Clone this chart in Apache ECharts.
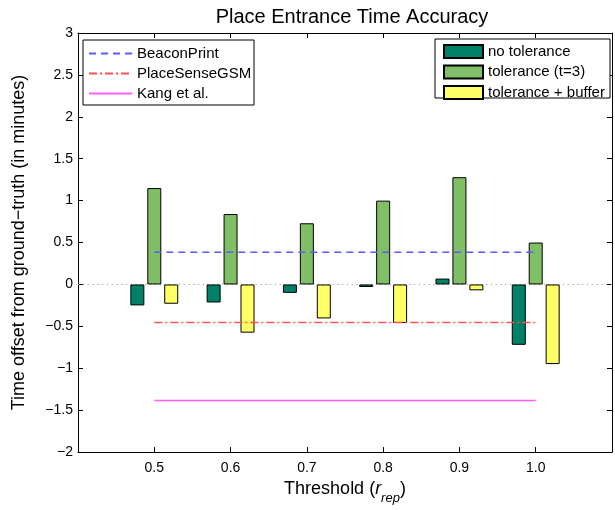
<!DOCTYPE html>
<html>
<head>
<meta charset="utf-8">
<script src="https://cdn.jsdelivr.net/npm/echarts@6/dist/echarts.min.js"></script>
<style>
html,body{margin:0;padding:0;background:#fff;}
#chart{width:615px;height:510px;}
</style>
</head>
<body>
<div id="chart"></div>
<script>
// ---- data ----
const thresholds = ['0.5', '0.6', '0.7', '0.8', '0.9', '1.0'];
const axisEnds = ['0.4', '1.1'];              // axis extends one step beyond data, unlabeled
const noTolerance = [-0.25, -0.215, -0.10, -0.03, 0.07, -0.72];
const toleranceT3 = [1.15, 0.84, 0.73, 1.00, 1.28, 0.50];
const toleranceBuffer = [-0.23, -0.575, -0.405, -0.46, -0.07, -0.95];
const beaconPrint = [0.385, 0.385, 0.385, 0.385, 0.385, 0.385];
const placeSenseGSM = [-0.455, -0.455, -0.455, -0.455, -0.455, -0.455];
const kangEtAl = [-1.385, -1.385, -1.385, -1.385, -1.385, -1.385];
const zeroLine = [0, 0, 0, 0, 0, 0, 0, 0];   // dotted reference line across the whole axis
const yMin = -2, yMax = 3, yStep = 0.5;

const FONT = "'Liberation Sans', Arial, Helvetica, sans-serif";
const categories = [axisEnds[0], ...thresholds, axisEnds[1]];
const pad = v => [null, ...v, null];
const fmtY = v => String(v).replace('-', '\u2212');

const chart = echarts.init(document.getElementById('chart'), null, {renderer: 'canvas'});

const barStyle = c => ({color: c, borderColor: '#000', borderWidth: 1});

chart.setOption({
  animation: false,
  backgroundColor: '#fff',
  textStyle: {fontFamily: FONT, color: '#000'},
  title: {
    text: 'Place Entrance Time Accuracy',
    left: 347, top: 2, textAlign: 'center',
    textStyle: {fontFamily: FONT, fontSize: 20, fontWeight: 'normal', color: '#000'}
  },
  grid: {left: 78, right: 1, top: 33, bottom: 57, containLabel: false},
  graphic: [
    {type: 'rect', shape: {x: 83, y: 40, width: 171, height: 65}, style: {fill: '#fff', stroke: '#000', lineWidth: 1}, z: 90},
    {type: 'rect', shape: {x: 435, y: 39, width: 175, height: 59}, style: {fill: '#fff', stroke: '#000', lineWidth: 1}, z: 90}
  ],
  legend: [
    {
      data: ['BeaconPrint', 'PlaceSenseGSM', 'Kang et al.'],
      orient: 'vertical', left: 88, top: 46, padding: 0,
      itemWidth: 43, itemHeight: 14, itemGap: 5,
      itemStyle: {opacity: 0},
      textStyle: {fontFamily: FONT, fontSize: 15, color: '#000'},
      z: 100
    },
    {
      data: ['no tolerance', 'tolerance (t=3)', 'tolerance + buffer'],
      orient: 'vertical', left: 443, top: 44, padding: 0,
      itemWidth: 39, itemHeight: 13, itemGap: 5.5, icon: 'rect',
      textStyle: {fontFamily: FONT, fontSize: 15, color: '#000'},
      z: 100
    }
  ],
  xAxis: [
    {
      type: 'category', data: categories, boundaryGap: false,
      name: '{a|Threshold (}{i|r}{s|rep}{a|)}',
      nameLocation: 'middle', nameGap: 26,
      nameTextStyle: {
        rich: {
          a: {fontFamily: FONT, fontSize: 18, color: '#000', lineHeight: 22, verticalAlign: 'top'},
          i: {fontFamily: FONT, fontSize: 18, fontStyle: 'italic', color: '#000', lineHeight: 22, verticalAlign: 'top'},
          s: {fontFamily: FONT, fontSize: 13, fontStyle: 'italic', color: '#000', lineHeight: 14, padding: [12, 0, 0, 0], verticalAlign: 'top'}
        }
      },
      axisLine: {onZero: false, lineStyle: {color: '#000', width: 1}},
      axisTick: {inside: true, length: 5, alignWithLabel: true, lineStyle: {color: '#000'}},
      axisLabel: {
        fontFamily: FONT, fontSize: 14, color: '#000', margin: 9,
        formatter: v => (axisEnds.includes(v) ? '' : v)
      },
      splitLine: {show: false}
    },
    {
      type: 'category', data: categories, boundaryGap: false, position: 'top',
      axisLine: {onZero: false, lineStyle: {color: '#000', width: 1}},
      axisTick: {inside: true, length: 5, lineStyle: {color: '#000'}},
      axisLabel: {show: false},
      splitLine: {show: false}
    }
  ],
  yAxis: [
    {
      type: 'value', min: yMin, max: yMax, interval: yStep,
      name: 'Time offset from ground\u2212truth (in minutes)',
      nameLocation: 'middle', nameGap: 50,
      nameTextStyle: {fontFamily: FONT, fontSize: 18, color: '#000'},
      axisLine: {show: true, onZero: false, lineStyle: {color: '#000', width: 1}},
      axisTick: {show: true, inside: true, length: 5, lineStyle: {color: '#000'}},
      axisLabel: {fontFamily: FONT, fontSize: 14, color: '#000', margin: 5, formatter: fmtY},
      splitLine: {show: false}
    },
    {
      type: 'value', min: yMin, max: yMax, interval: yStep, position: 'right',
      axisLine: {show: true, onZero: false, lineStyle: {color: '#000', width: 1}},
      axisTick: {show: true, inside: true, length: 5, lineStyle: {color: '#000'}},
      axisLabel: {show: false},
      splitLine: {show: false}
    }
  ],
  series: [
    {
      name: 'zero', type: 'line', data: zeroLine, symbol: 'none', silent: true, z: 1,
      lineStyle: {color: '#999999', width: 1, type: [1.2, 3.6]}
    },
    {name: 'no tolerance', type: 'bar', data: pad(noTolerance), barWidth: 14, barGap: '21%', itemStyle: barStyle('#008066'), z: 2},
    {name: 'tolerance (t=3)', type: 'bar', data: pad(toleranceT3), barWidth: 14, barGap: '21%', itemStyle: barStyle('#80BF66'), z: 2},
    {name: 'tolerance + buffer', type: 'bar', data: pad(toleranceBuffer), barWidth: 14, barGap: '21%', itemStyle: barStyle('#FFFF66'), z: 2},
    {
      name: 'BeaconPrint', type: 'line', data: pad(beaconPrint), symbol: 'none', z: 3,
      lineStyle: {color: '#5a5aff', width: 1.5, type: [7, 5]}, itemStyle: {color: '#5a5aff'}
    },
    {
      name: 'PlaceSenseGSM', type: 'line', data: pad(placeSenseGSM), symbol: 'none', z: 3,
      lineStyle: {color: '#ff5050', width: 1.5, type: [8, 3, 2, 3]}, itemStyle: {color: '#ff5050'}
    },
    {
      name: 'Kang et al.', type: 'line', data: pad(kangEtAl), symbol: 'none', z: 3,
      lineStyle: {color: '#ff5cff', width: 1.5, type: 'solid'}, itemStyle: {color: '#ff5cff'}
    }
  ]
});
</script>
</body>
</html>
